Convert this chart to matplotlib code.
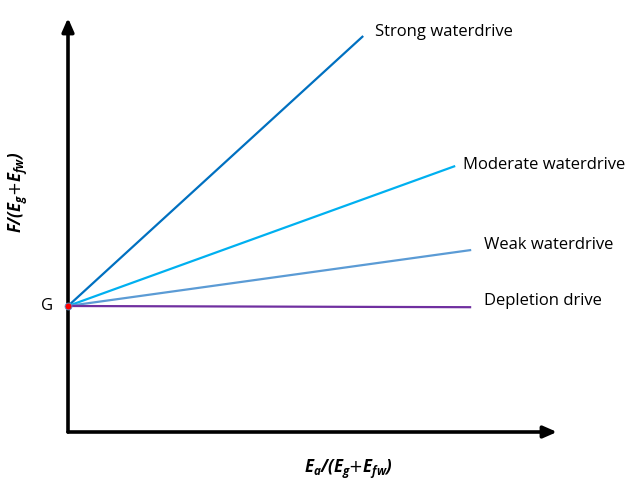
import matplotlib.pyplot as plt

plt.rcParams['mathtext.fontset'] = 'custom'
plt.rcParams['mathtext.rm'] = 'Open Sans:italic:bold'
plt.rcParams['mathtext.it'] = 'Open Sans:italic:bold'
plt.rcParams['mathtext.bf'] = 'Open Sans:italic:bold'

# drive mechanisms: straight lines from the intercept G
drives = ["Strong waterdrive", "Moderate waterdrive", "Weak waterdrive", "Depletion drive"]
G = 3.15
x_end = [7.38, 9.68, 10.08, 10.08]
y_end = [9.9, 6.65, 4.55, 3.12]
colors = ["#0070C0", "#00B0F0", "#5B9BD5", "#7030A0"]
label_dx = [0.3, 0.2, 0.32, 0.32]
label_dy = [0.1, 0.03, 0.13, 0.15]

fig = plt.figure(figsize=(6.27, 4.82), dpi=100)
ax = fig.add_axes([68 / 627, 50 / 482, (557 - 68) / 627, (432 - 18) / 482])
ax.set_xlim(0, (557 - 68) / 40)
ax.set_ylim(0, (432 - 18) / 40)
ax.axis('off')

for name, xe, ye, c, dx, dy in zip(drives, x_end, y_end, colors, label_dx, label_dy):
    ax.plot([0, xe], [G, ye], color=c, lw=1.6, solid_capstyle='butt', zorder=2)
    ax.text(xe + dx, ye + dy, name, fontsize=12, family='Open Sans', va='center', ha='left')

# axes with arrowheads
ax.annotate('', xy=(1, 0), xytext=(0, 0), xycoords='axes fraction',
            arrowprops=dict(arrowstyle='-|>,head_length=0.8,head_width=0.35', lw=2.6, color='black',
                            shrinkA=0, shrinkB=0), annotation_clip=False)
ax.annotate('', xy=(0, 1), xytext=(0, 0), xycoords='axes fraction',
            arrowprops=dict(arrowstyle='-|>,head_length=0.8,head_width=0.35', lw=2.6, color='black',
                            shrinkA=0, shrinkB=0), annotation_clip=False)

ax.plot([0], [G], marker='o', ms=5, mfc='red', mec='#5B9BD5', mew=0.6, zorder=5, clip_on=False)
ax.text(-0.38, G, "G", fontsize=12, family='Open Sans', va='center', ha='right')

fig.text(18 / 627, 1 - 192 / 482, r'$F/(E_g$+$E_{fw})$', rotation=90, fontsize=12,
         ha='center', va='center')
fig.text(348 / 627, 1 - 469 / 482, r'$E_a/(E_g$+$E_{fw})$', fontsize=12,
         ha='center', va='center')

fig.savefig('out.png', dpi=100)
